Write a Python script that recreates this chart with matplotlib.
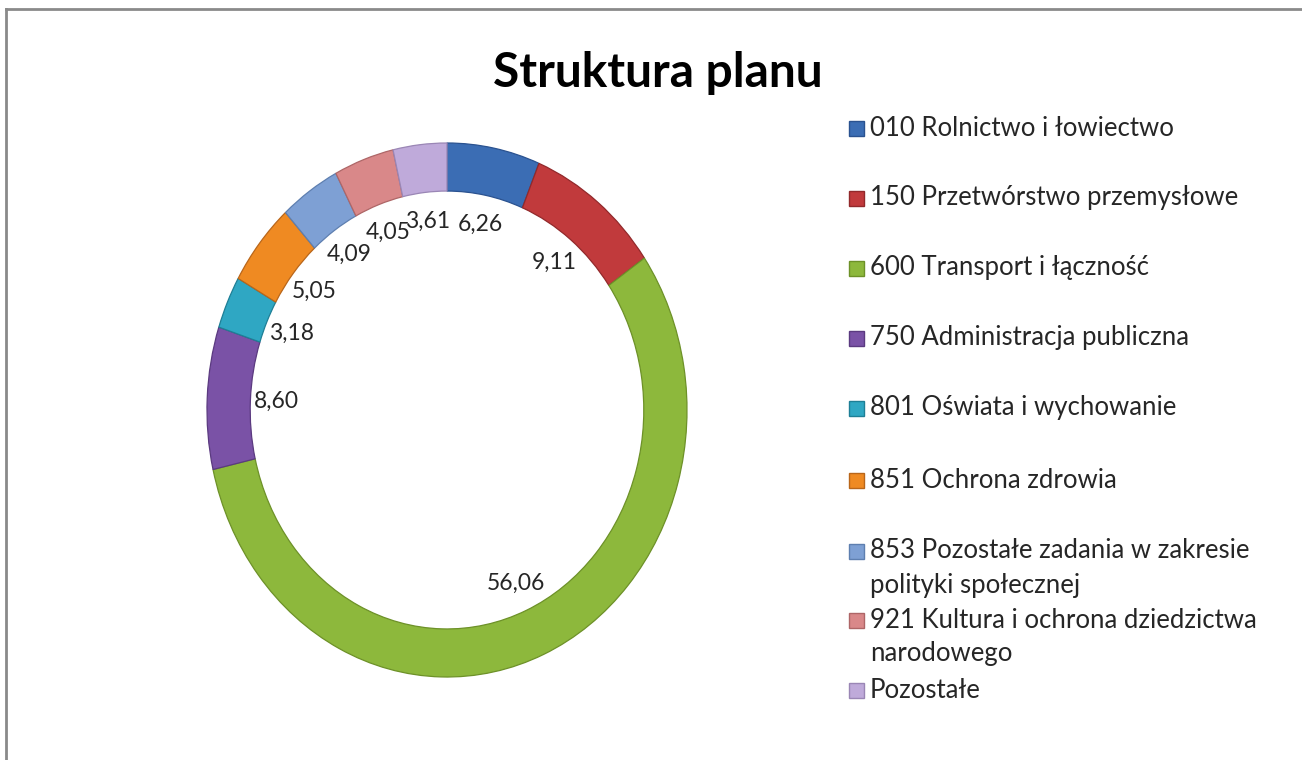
"""
Struktura planu - donut chart recreated in matplotlib.
"""

import matplotlib.pyplot as plt
from matplotlib.patches import Rectangle
from matplotlib.lines import Line2D
import numpy as np

W, H = 1302, 760

categories = [
    "010 Rolnictwo i łowiectwo",
    "150 Przetwórstwo przemysłowe",
    "600 Transport i łączność",
    "750 Administracja publiczna",
    "801 Oświata i wychowanie",
    "851 Ochrona zdrowia",
    "853 Pozostałe zadania w zakresie\npolityki społecznej",
    "921 Kultura i ochrona dziedzictwa\nnarodowego",
    "Pozostałe",
]
values = [6.26, 9.11, 56.06, 8.60, 3.18, 5.05, 4.09, 4.05, 3.61]
colors = ["#3B6DB4", "#C13A3C", "#8DB83C", "#7A52A6", "#2FA7C3",
          "#EF8A22", "#7EA0D4", "#D98889", "#BFAADA"]
edge_colors = ["#2A5290", "#92292B", "#6D9128", "#5B3A80", "#1E7F96",
               "#B9661A", "#5E7FB0", "#AE6667", "#9A86B5"]

# legend row positions (pixels from top) - Excel squeezes the wrapped entries
legend_rows = [128, 198, 268, 338, 408, 480, 551, 620, 690]
LINE_STEP = 34

plt.rcParams["font.family"] = ["Lato", "DejaVu Sans"]

fig = plt.figure(figsize=(W / 100, H / 100), dpi=100)
fig.patch.set_facecolor("white")

# chart frame (only top and left edge are visible in the crop)
fig.add_artist(Line2D([6 / W, 6 / W], [0, 1 - 9 / H], transform=fig.transFigure,
                      color="#8A8A8A", lw=2))
fig.add_artist(Line2D([6 / W, 1], [1 - 9 / H, 1 - 9 / H], transform=fig.transFigure,
                      color="#8A8A8A", lw=2))

fig.text(658 / W, 1 - 87 / H, "Struktura planu", ha="center", va="baseline",
         fontsize=34.5, fontweight="bold", color="black")

# donut: slightly stretched vertically like the original picture
cx, cy, rx, ry = 447, 410, 240, 267
ax = fig.add_axes([(cx - rx) / W, 1 - (cy + ry) / H, 2 * rx / W, 2 * ry / H])
wedges, _ = ax.pie(values, colors=colors, startangle=90, counterclock=False,
                   radius=1, wedgeprops=dict(width=0.18, linewidth=0.9))
for w, ec in zip(wedges, edge_colors):
    w.set_edgecolor(ec)
ax.set_aspect("auto")
ax.set_xlim(-1, 1)
ax.set_ylim(-1, 1)
ax.axis("off")

# data labels just inside the ring
for w, v in zip(wedges, values):
    ang = np.deg2rad((w.theta1 + w.theta2) / 2)
    r = 0.71
    ax.text(r * np.cos(ang), r * np.sin(ang), f"{v:.2f}".replace(".", ","),
            ha="center", va="center", fontsize=16.5, color="#262626")

# legend drawn by hand to match the Excel layout
for lab, col, ec, y in zip(categories, colors, edge_colors, legend_rows):
    fig.add_artist(Rectangle((849 / W, 1 - (y + 8) / H), 15 / W, 15 / H,
                             transform=fig.transFigure, facecolor=col,
                             edgecolor=ec, lw=1))
    for i, line in enumerate(lab.split("\n")):
        fig.text(870 / W, 1 - (y + i * LINE_STEP) / H, line, ha="left",
                 va="center", fontsize=18.5, color="#262626")

fig.savefig("out.png", dpi=100, facecolor="white")
